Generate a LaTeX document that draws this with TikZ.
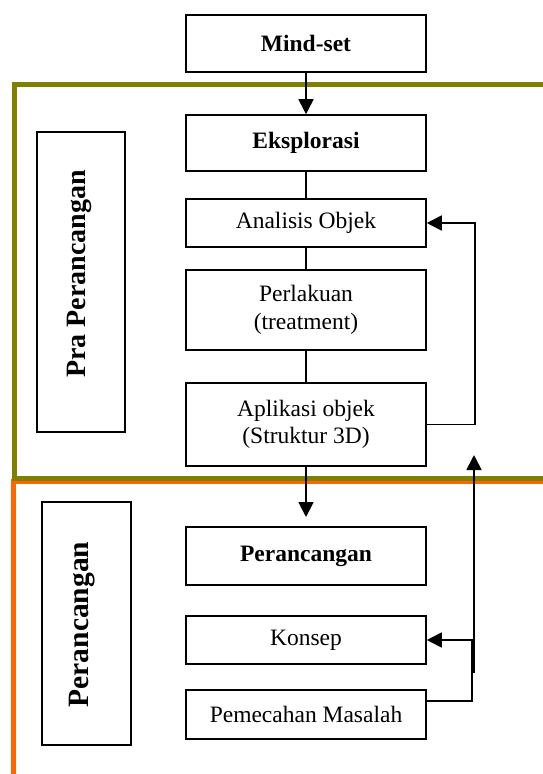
\documentclass[tikz,border=0pt]{standalone}
\usepackage{fontspec}
\setmainfont{Liberation Serif}
\usetikzlibrary{arrows.meta}
\definecolor{praolive}{RGB}{128,128,0}
\definecolor{perorange}{RGB}{255,102,0}
\tikzset{
    stepbox/.style={draw, line width=1.6pt, minimum width=240pt, align=center,
            font=\fontsize{23.5}{27.5}\selectfont},
    sidebox/.style={draw, line width=1.6pt},
    sidetext/.style={rotate=90, inner sep=0pt},
    link/.style={line width=1.8pt},
    flow/.style={link, -{Triangle[width=15pt,length=15pt]}},
}
\begin{document}
\begin{tikzpicture}[x=1pt,y=-1pt]
    \useasboundingbox (0,0) rectangle (543,774);
    \clip (0,0) rectangle (543,774);
    % Draw the two phase frames
    \draw[perorange, line width=5pt] (13.5,800) -- (13.5,481) -- (560,481);
    \draw[praolive, line width=5pt] (14,84) rectangle (560,478.5);
    % Side labels
    \node[sidebox, minimum width=88pt, minimum height=300pt] (prabox) at (81,282) {};
    \node[sidetext, font=\bfseries\fontsize{28}{32}\selectfont] (pratext) at (79.5,274) {Pra Perancangan};
    \node[sidebox, minimum width=89pt, minimum height=243pt] (perbox) at (86.5,623.5) {};
    \node[sidetext, font=\bfseries\fontsize{29.5}{33}\selectfont] (pertext) at (82,624.5) {Perancangan};
    % Draw the steps
    \node[stepbox, minimum height=57pt] (mindset) at (306,43.5) {\textbf{Mind-set}};
    \node[stepbox, minimum height=56pt] (eksplorasi) at (306,143) {\textbf{Eksplorasi}};
    \node[stepbox, minimum height=48pt] (analisis) at (306,223) {Analisis Objek};
    \node[stepbox, minimum height=80pt] (perlakuan) at (306,310) {Perlakuan\\(treatment)};
    \node[stepbox, minimum height=83pt] (aplikasi) at (306,424.5) {Aplikasi objek\\(Struktur 3D)};
    \node[stepbox, minimum height=58pt] (perancangan) at (306,556) {\textbf{Perancangan}};
    \node[stepbox, minimum height=48pt] (konsep) at (306,640) {Konsep};
    \node[stepbox, minimum height=49pt] (pemecahan) at (306,714.5) {Pemecahan Masalah};
    % Draw the links
    \draw[flow] (mindset) -- (eksplorasi);
    \foreach \a/\b in {eksplorasi/analisis, analisis/perlakuan, perlakuan/aplikasi} {
            \draw[link] (\a) -- (\b);
        }
    \coordinate (perin) at (306,517);
    \draw[flow] (aplikasi) -- (perin);
    % Feedback loops
    \draw[flow] (aplikasi.east) -- ++(48,0) |- (analisis.east);
    \draw[flow] ([yshift=13.5pt]pemecahan.east) -- ++(45,0) |- (konsep.east);
    \coordinate (upfoot) at (474,673);
    \coordinate (uphead) at (474,455);
    \draw[flow] (upfoot) -- (uphead);
\end{tikzpicture}
\end{document}
